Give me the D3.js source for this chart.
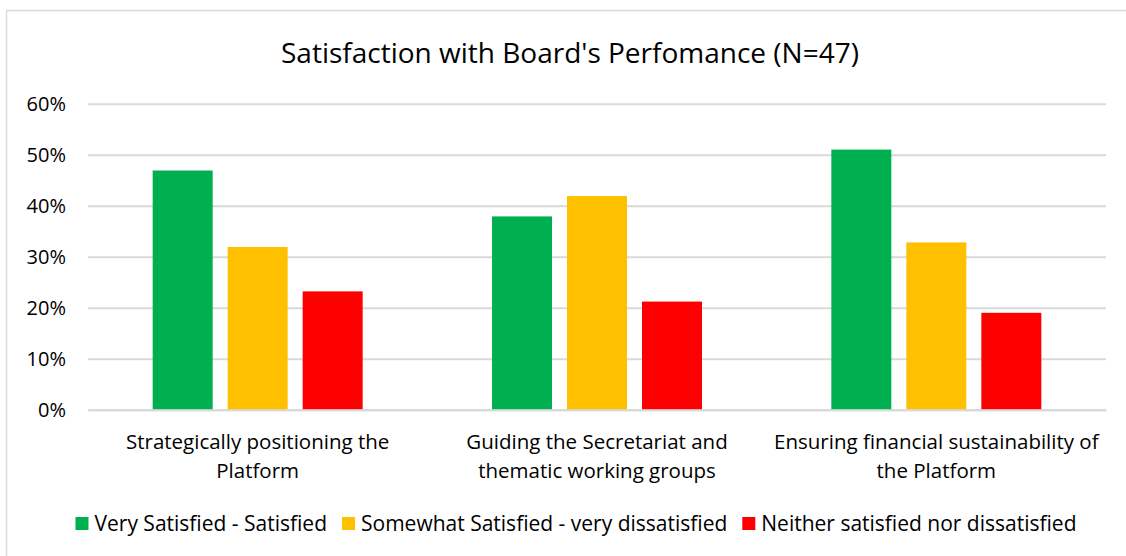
<!DOCTYPE html>
<html>
<head>
<meta charset="utf-8">
<script src="https://cdn.jsdelivr.net/npm/d3@7"></script>
<style>
  body { margin: 0; background: #fff; }
  svg text { font-family: "Open Sans", sans-serif; fill: #000; }
</style>
</head>
<body>
<svg id="chart" width="1126" height="556"></svg>
<script>
// chart data
var categories = [
  ["Strategically positioning the", "Platform"],
  ["Guiding the Secretariat and", "thematic working groups"],
  ["Ensuring financial sustainability of", "the Platform"]
];
var seriesNames = [
  "Very Satisfied - Satisfied",
  "Somewhat Satisfied - very dissatisfied",
  "Neither satisfied nor dissatisfied"
];
var seriesColors = ["#00b050", "#ffc000", "#ff0000"];
var verySatisfied = [0.469, 0.379, 0.510];
var somewhatSatisfied = [0.319, 0.419, 0.328];
var neitherSatisfied = [0.232, 0.212, 0.190];
var yTicks = [0, 0.1, 0.2, 0.3, 0.4, 0.5, 0.6];

var values = [verySatisfied, somewhatSatisfied, neitherSatisfied];
var FONT = '"Open Sans", sans-serif';

var svg = d3.select("#chart");

// outer chart frame
svg.append("rect")
  .attr("x", 6.5).attr("y", 10.5)
  .attr("width", 1140).attr("height", 560)
  .style("fill", "none")
  .style("stroke", "#d9d9d9")
  .style("stroke-width", 1.5);

// TITLE
svg.append("text")
  .attr("x", 570).attr("y", 63)
  .attr("text-anchor", "middle")
  .style("font-size", "28px")
  .text("Satisfaction with Board's Perfomance (N=47)");

var x0 = d3.scaleBand()
  .domain(d3.range(categories.length))
  .range([88, 1106]);

var x1 = d3.scaleBand()
  .domain(d3.range(seriesNames.length))
  .range([0, 210])
  .paddingInner(0.2);

var y = d3.scaleLinear()
  .domain([0, 0.6])
  .range([409.7, 103.7]);

// GRIDLINES + Y AXIS
var yAxis = d3.axisLeft(y)
  .tickValues(yTicks)
  .tickFormat(d3.format(".0%"))
  .tickSize(-(1106 - 88))
  .tickPadding(22);

var gy = svg.append("g")
  .attr("transform", "translate(88,0)")
  .call(yAxis);
gy.select(".domain").remove();
gy.selectAll(".tick line")
  .style("stroke", "#d9d9d9")
  .style("stroke-width", 2);
gy.selectAll(".tick text")
  .style("font-size", "20px")
  .style("font-family", FONT)
  .attr("fill", "#000");

// BARS
var groups = svg.append("g").selectAll("g")
  .data(categories)
  .join("g")
    .attr("transform", function (d, i) {
      return "translate(" + (x0(i) + x0.bandwidth() / 2 - 105) + ",0)";
    });

groups.selectAll("rect")
  .data(function (d, i) {
    return values.map(function (s, k) { return {k: k, v: s[i]}; });
  })
  .join("rect")
    .attr("x", function (d) { return x1(d.k); })
    .attr("width", x1.bandwidth())
    .attr("y", function (d) { return y(d.v); })
    .attr("height", function (d) { return y(0) - y(d.v); })
    .style("fill", function (d) { return seriesColors[d.k]; });

// X AXIS LABELS
var gx = svg.append("g")
  .attr("transform", "translate(0,409.7)")
  .call(d3.axisBottom(x0).tickSize(0).tickFormat(""));
gx.select(".domain")
  .style("stroke", "#d9d9d9")
  .style("stroke-width", 2);

categories.forEach(function (lines, i) {
  var t = gx.append("text")
    .attr("x", x0(i) + x0.bandwidth() / 2)
    .attr("y", 39)
    .attr("text-anchor", "middle")
    .attr("fill", "#000")
    .style("font-size", "20.5px");
  lines.forEach(function (line, j) {
    t.append("tspan")
      .attr("x", x0(i) + x0.bandwidth() / 2)
      .attr("dy", j === 0 ? 0 : 29)
      .text(line);
  });
});

// LEGEND
var legend = svg.append("g");
var cursor = 0;
seriesNames.forEach(function (name, k) {
  var item = legend.append("g").attr("transform", "translate(" + cursor + ",0)");
  item.append("rect")
    .attr("x", 0).attr("y", 517)
    .attr("width", 13).attr("height", 13)
    .style("fill", seriesColors[k]);
  var label = item.append("text")
    .attr("x", 19).attr("y", 531)
    .style("font-size", "21px")
    .text(name);
  cursor += 19 + label.node().getComputedTextLength() + 15;
});
cursor -= 15;
legend.attr("transform", "translate(" + (576 - cursor / 2) + ",0)");
</script>
</body>
</html>
